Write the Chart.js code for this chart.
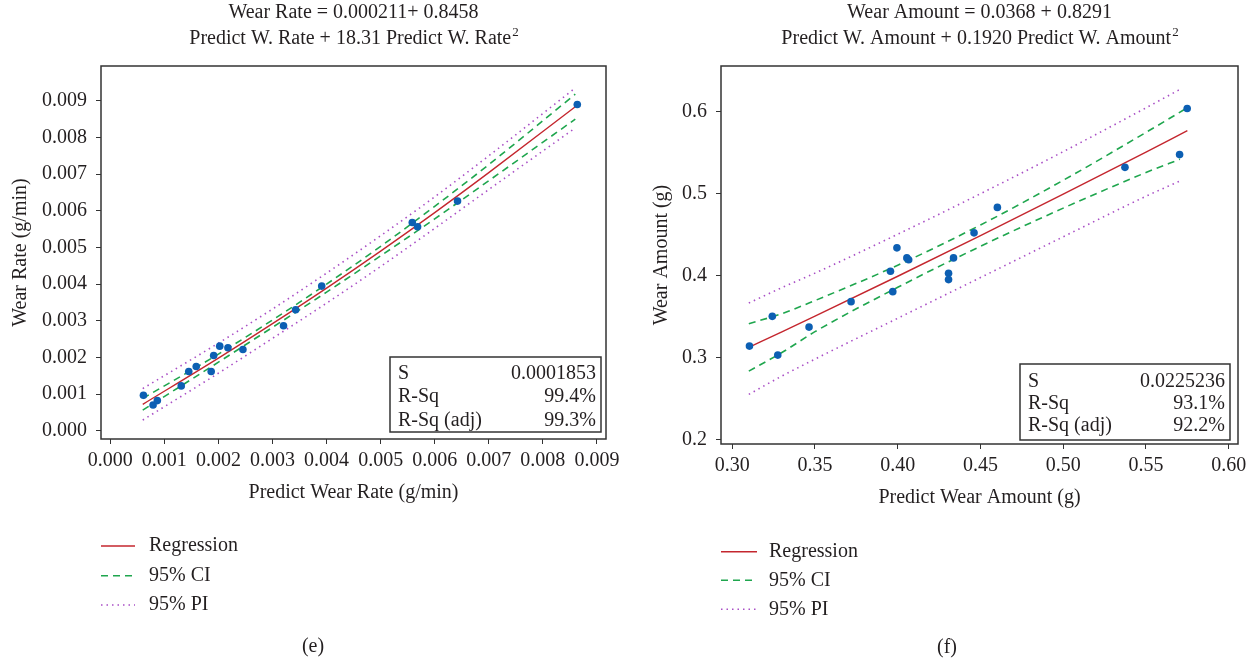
<!DOCTYPE html>
<html>
<head>
<meta charset="utf-8">
<script src="https://cdn.jsdelivr.net/npm/chart.js@4.4.1/dist/chart.umd.min.js"></script>
<style>
  body { margin: 0; background: #fff; }
  canvas { position: absolute; top: 0; }
  #chartE { left: 0; }
  #chartF { left: 629px; }
</style>
</head>
<body>
<canvas id="chartE" width="629" height="663"></canvas>
<canvas id="chartF" width="629" height="663"></canvas>
<script>
// (e) wear rate
const ePredict = [0.000613, 0.000791, 0.000870, 0.001312, 0.001451, 0.001589, 0.001866, 0.001912, 0.002024, 0.002176, 0.002453, 0.003204, 0.003428, 0.003910, 0.005585, 0.005683, 0.006422, 0.008637];
const eWear    = [0.000967, 0.000703, 0.000821, 0.001222, 0.001614, 0.001751, 0.001614, 0.002052, 0.002307, 0.002262, 0.002216, 0.002864, 0.003300, 0.003945, 0.005682, 0.005564, 0.006264, 0.008900];
const eLineX      = [0.0006, 0.002, 0.003, 0.004, 0.005, 0.006, 0.007, 0.0086];
const eRegression = [0.00072, 0.00198, 0.00292, 0.00389, 0.00490, 0.00595, 0.00704, 0.00884];
const eCiUpper    = [0.00088, 0.00209, 0.00302, 0.00400, 0.00503, 0.00612, 0.00726, 0.00918];
const eCiLower    = [0.00056, 0.00187, 0.00282, 0.00378, 0.00477, 0.00578, 0.00682, 0.00850];
const ePiUpper    = [0.00115, 0.00239, 0.00332, 0.00430, 0.00532, 0.00638, 0.00750, 0.00935];
const ePiLower    = [0.00029, 0.00157, 0.00252, 0.00348, 0.00448, 0.00552, 0.00658, 0.00826];
const eXTicks = ["0.000", "0.001", "0.002", "0.003", "0.004", "0.005", "0.006", "0.007", "0.008", "0.009"];
const eYTicks = ["0.000", "0.001", "0.002", "0.003", "0.004", "0.005", "0.006", "0.007", "0.008", "0.009"];
const eStats = [["S", "0.0001853"], ["R-Sq", "99.4%"], ["R-Sq (adj)", "99.3%"]];

// (f) wear amount
const fPredict = [0.3104, 0.3242, 0.3275, 0.3464, 0.3718, 0.3956, 0.3970, 0.3995, 0.4055, 0.4066, 0.4307, 0.4307, 0.4337, 0.4461, 0.4602, 0.5373, 0.5703, 0.5749];
const fWear    = [0.3139, 0.3502, 0.3029, 0.3371, 0.3682, 0.4053, 0.3804, 0.4339, 0.4216, 0.4194, 0.4029, 0.3951, 0.4216, 0.4522, 0.4833, 0.5322, 0.5478, 0.6041];
const fLineX      = [0.31, 0.33, 0.35, 0.40, 0.45, 0.50, 0.55, 0.575];
const fRegression = [0.3123, 0.3313, 0.3505, 0.3992, 0.4488, 0.4994, 0.5509, 0.5770];
const fCiUpper    = [0.3413, 0.3535, 0.3695, 0.4127, 0.4618, 0.5164, 0.5749, 0.6050];
const fBandX      = [0.31, 0.33, 0.35, 0.40, 0.45, 0.50, 0.55, 0.5705];
const fCiLower    = [0.2833, 0.3060, 0.3315, 0.3857, 0.4358, 0.4824, 0.5259, 0.5421];
const fPiUpper    = [0.3665, 0.3853, 0.4030, 0.4505, 0.5000, 0.5514, 0.6049, 0.6274];
const fPiLower    = [0.2549, 0.2773, 0.2980, 0.3479, 0.3976, 0.4474, 0.4969, 0.5155];
const fXTicks = ["0.30", "0.35", "0.40", "0.45", "0.50", "0.55", "0.60"];
const fYTicks = ["0.2", "0.3", "0.4", "0.5", "0.6"];
const fStats = [["S", "0.0225236"], ["R-Sq", "93.1%"], ["R-Sq (adj)", "92.2%"]];

const legendLabels = ["Regression", "95% CI", "95% PI"];

const FONT = "'Liberation Serif', 'DejaVu Serif', serif";
const INK = '#231f20';
const RED = '#c4262e';
const GREEN = '#1fa64e';
const PURPLE = '#a94fc6';
const BLUE = '#0c5fb3';

Chart.defaults.font.family = FONT;
Chart.defaults.font.size = 20;
Chart.defaults.color = INK;

const pts = (xs, ys) => xs.map((x, i) => ({ x: x, y: ys[i] }));

function curve(xs, ys, color, dash, width) {
  return {
    type: 'line',
    data: pts(xs, ys),
    borderColor: color,
    borderWidth: width,
    borderDash: dash,
    pointRadius: 0,
    fill: false,
    cubicInterpolationMode: 'monotone'
  };
}

// frame, title, stats box, legend and caption
const decor = {
  id: 'decor',
  afterDraw(chart, args, o) {
    const ctx = chart.ctx;
    const a = chart.chartArea;
    ctx.save();
    ctx.strokeStyle = '#333';
    ctx.lineWidth = 1.5;
    ctx.strokeRect(a.left, a.top, a.right - a.left, a.bottom - a.top);

    ctx.fillStyle = INK;
    ctx.font = '20px ' + FONT;
    ctx.textBaseline = 'middle';
    ctx.textAlign = 'center';
    const cx = (a.left + a.right) / 2;
    ctx.fillText(o.title[0], cx, 13);
    // second line with a raised "2"
    const t2 = o.title[1];
    const wMain = ctx.measureText(t2).width;
    ctx.font = '13px ' + FONT;
    const wSup = ctx.measureText('2').width;
    const start = cx - (wMain + wSup) / 2;
    ctx.textAlign = 'left';
    ctx.fillText('2', start + wMain + 1, 33);
    ctx.font = '20px ' + FONT;
    ctx.fillText(t2, start, 39);

    // stats box
    const b = o.box;
    ctx.fillStyle = '#fff';
    ctx.fillRect(b.x, b.y, b.w, b.h);
    ctx.strokeStyle = '#333';
    ctx.lineWidth = 1.5;
    ctx.strokeRect(b.x, b.y, b.w, b.h);
    ctx.fillStyle = INK;
    o.stats.forEach((r, i) => {
      const y = b.rows[i];
      ctx.textAlign = 'left';
      ctx.fillText(r[0], b.x + 8, y);
      ctx.textAlign = 'right';
      ctx.fillText(r[1], b.x + b.w - 5, y);
    });

    // legend
    const L = o.legend;
    const styles = [[RED, [], 1.4], [GREEN, [7, 5], 1.6], [PURPLE, [1.5, 4], 1.6]];
    legendLabels.forEach((txt, i) => {
      const y = L.rows[i];
      ctx.beginPath();
      ctx.strokeStyle = styles[i][0];
      ctx.setLineDash(styles[i][1]);
      ctx.lineWidth = styles[i][2];
      ctx.moveTo(L.x0, y);
      ctx.lineTo(L.x1, y);
      ctx.stroke();
      ctx.setLineDash([]);
      ctx.textAlign = 'left';
      ctx.fillStyle = INK;
      ctx.fillText(txt, L.tx, y);
    });

    ctx.textAlign = 'center';
    ctx.fillText(o.caption[0], o.caption[1], o.caption[2]);
    ctx.restore();
  }
};

function makeChart(id, d) {
  const fixTicks = (labels) => (scale) => {
    scale.ticks = labels.map(s => ({ value: parseFloat(s) }));
  };
  return new Chart(document.getElementById(id), {
    type: 'scatter',
    data: {
      datasets: [
        { data: pts(d.px, d.py), pointRadius: 3.8, pointHoverRadius: 3.8, backgroundColor: BLUE, borderColor: BLUE, borderWidth: 0 },
        curve(d.lx, d.reg, RED, [], 1.4),
        curve(d.lx, d.ciU, GREEN, [7, 5], 1.6),
        curve(d.bx, d.ciL, GREEN, [7, 5], 1.6),
        curve(d.bx, d.piU, PURPLE, [1.5, 4], 1.6),
        curve(d.bx, d.piL, PURPLE, [1.5, 4], 1.6)
      ]
    },
    options: {
      responsive: false,
      animation: false,
      events: [],
      layout: { padding: { top: 66, right: d.padRight, left: 0, bottom: d.padBottom } },
      plugins: {
        legend: { display: false },
        tooltip: { enabled: false },
        decor: d.decor
      },
      scales: {
        x: {
          type: 'linear',
          min: d.xMin, max: d.xMax,
          afterFit: (s) => { s.height = 70; },
          afterBuildTicks: fixTicks(d.xTicks),
          grid: { drawOnChartArea: false, drawTicks: true, tickLength: 5, color: '#333' },
          border: { display: false },
          ticks: { padding: 5, callback: (v, i) => d.xTicks[i] },
          title: { display: true, text: d.xTitle, padding: { top: 0, bottom: 4 } }
        },
        y: {
          type: 'linear',
          min: d.yMin, max: d.yMax,
          afterFit: (s) => { s.width = d.yWidth; },
          afterBuildTicks: fixTicks(d.yTicks),
          grid: { drawOnChartArea: false, drawTicks: true, tickLength: 5, color: '#333' },
          border: { display: false },
          ticks: { padding: d.yPad, callback: (v, i) => d.yTicks[i] },
          title: { display: true, text: d.yTitle, padding: { top: d.yTitlePad, bottom: 0 } }
        }
      }
    },
    plugins: [decor]
  });
}

makeChart('chartE', {
  px: ePredict, py: eWear, lx: eLineX, bx: eLineX,
  reg: eRegression, ciU: eCiUpper, ciL: eCiLower, piU: ePiUpper, piL: ePiLower,
  xMin: -0.000172, xMax: 0.009168, yMin: -0.000226, yMax: 0.00995,
  xTicks: eXTicks, yTicks: eYTicks,
  xTitle: 'Predict Wear Rate (g/min)', yTitle: 'Wear Rate (g/min)',
  padRight: 23, padBottom: 154, yWidth: 101, yPad: 9, yTitlePad: 9,
  decor: {
    title: ['Wear Rate = 0.000211+ 0.8458', 'Predict W. Rate + 18.31 Predict W. Rate'],
    stats: eStats,
    box: { x: 390, y: 357, w: 211, h: 75, rows: [373.5, 397, 420.3] },
    legend: { x0: 101, x1: 135, tx: 149, rows: [546, 575.7, 605] },
    caption: ['(e)', 313, 647]
  }
});

makeChart('chartF', {
  px: fPredict, py: fWear, lx: fLineX, bx: fBandX,
  reg: fRegression, ciU: fCiUpper, ciL: fCiLower, piU: fPiUpper, piL: fPiLower,
  xMin: 0.2932, xMax: 0.6056, yMin: 0.1943, yMax: 0.656,
  xTicks: fXTicks, yTicks: fYTicks,
  xTitle: 'Predict Wear Amount (g)', yTitle: 'Wear Amount (g)',
  padRight: 20, padBottom: 149, yWidth: 92, yPad: 9, yTitlePad: 21,
  decor: {
    title: ['Wear Amount = 0.0368 + 0.8291', 'Predict W. Amount + 0.1920 Predict W. Amount'],
    stats: fStats,
    box: { x: 391, y: 364, w: 210, h: 76, rows: [381.5, 403.8, 426] },
    legend: { x0: 92, x1: 128, tx: 140, rows: [551.7, 580.3, 609.3] },
    caption: ['(f)', 318, 648]
  }
});
</script>
</body>
</html>
